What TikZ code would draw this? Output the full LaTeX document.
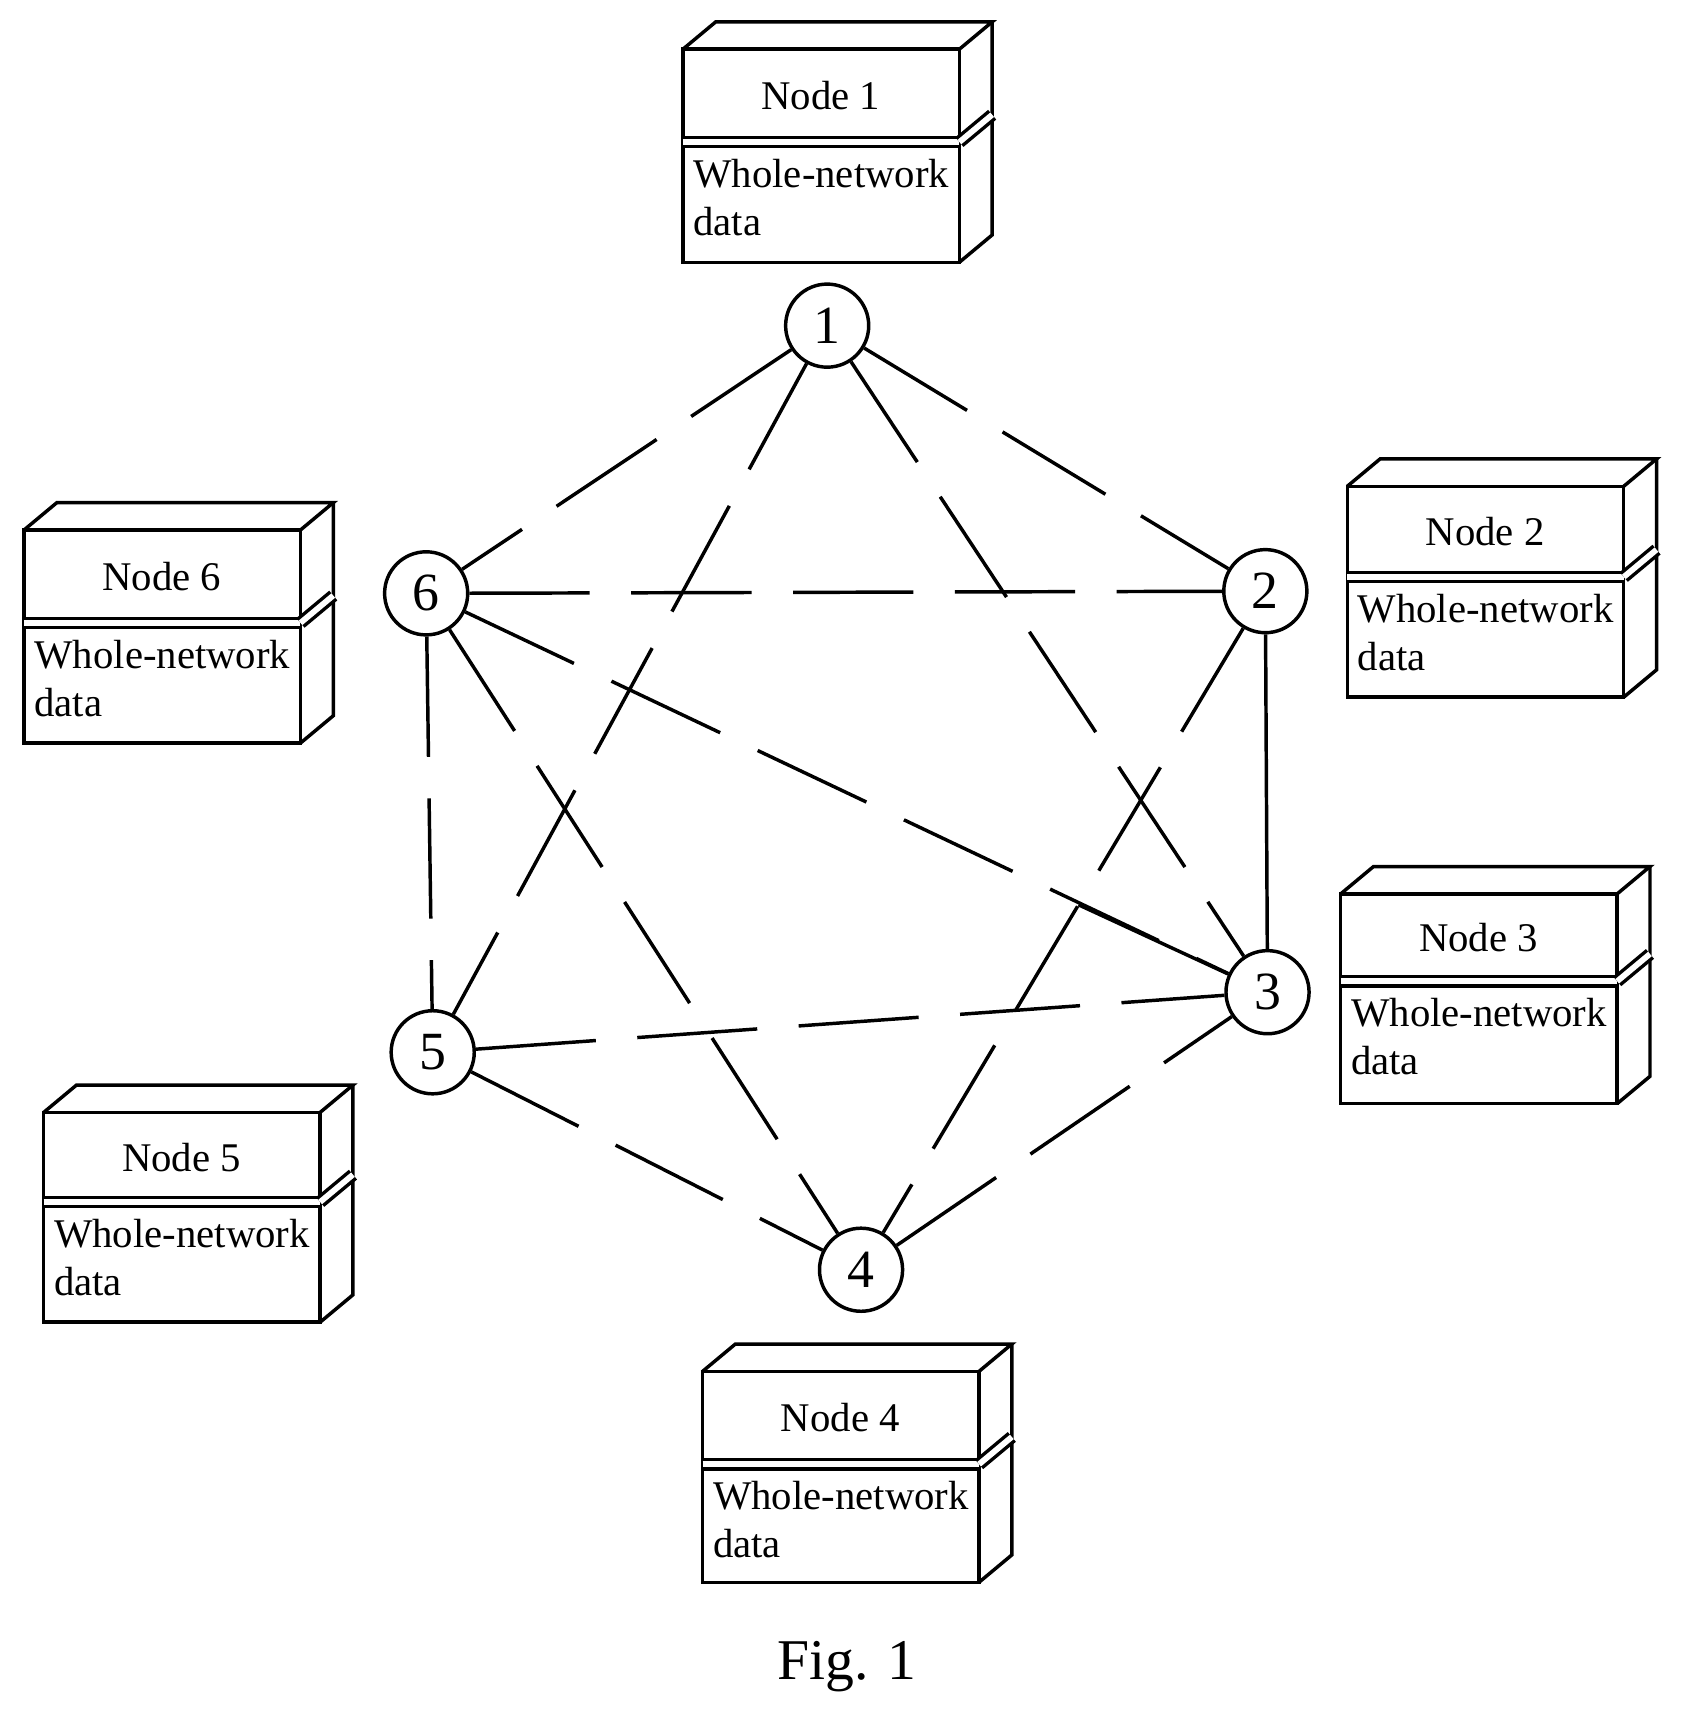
\documentclass[tikz,border=0pt]{standalone}
\usepackage{fontspec}
\setmainfont{Liberation Serif}
\begin{document}
\begin{tikzpicture}[x=0.01cm,y=-0.01cm,
  nd/.style={circle,draw,line width=0.9pt,minimum size=0.76cm,inner sep=0pt,font=\fontsize{14}{16}\selectfont},
  dl/.style={line width=0.9pt,dash pattern=on 1.1cm off 0.38cm},
  sl/.style={line width=0.9pt},
  lbl/.style={font=\fontsize{10.6}{12.6}\selectfont,inner sep=0pt}]
\useasboundingbox (0,0) rectangle (1552,1575);
\newcommand{\dbox}[5]{% name, x, y top, y split, y bottom
  \begin{scope}[line width=0.9pt]
  \draw (#2,#3) rectangle (#2+253,#5);
  \draw[double,double distance=1.5pt] (#2,#4) -- (#2+253,#4);
  \draw (#2,#3) -- (#2+30,#3-25) -- (#2+283,#3-25) -- (#2+253,#3);
  \draw (#2+283,#3-25) -- (#2+283,#5-25) -- (#2+253,#5);
  \draw[double,double distance=1.5pt] (#2+253,#4) -- (#2+283,#4-25);
  \node[lbl] (#1t) at (#2+126,{(#3+#4)/2}) {Node #1};
  \node[lbl,anchor=north west,align=left] (#1b) at (#2+8,#4+14) {Whole-network\\data};
  \end{scope}}
\dbox{1}{625}{45}{130}{240}
\dbox{6}{22}{485}{570}{680}
\dbox{2}{1233}{445}{528}{638}
\dbox{3}{1227}{818}{898}{1010}
\dbox{5}{40}{1018}{1100}{1210}
\dbox{4}{643}{1255}{1340}{1448}
\node[nd] (n1) at (757,298) {1};
\node[nd] (n2) at (1158,541) {2};
\node[nd] (n3) at (1160,908) {3};
\node[nd] (n4) at (788,1162) {4};
\node[nd] (n5) at (396,963) {5};
\node[nd] (n6) at (390,543) {6};
\coordinate (k) at (987,828);
\draw[dl] (n1) -- (n6);
\draw[dl] (n1) -- (n2);
\draw[dl] (n1) -- (n5);
\draw[dl] (n1) -- (n3);
\draw[dl] (n6) -- (n2);
\draw[dl] (n6) -- (n3);
\draw[dl] (n6) -- (n4);
\draw[dl] (n6) -- (n5);
\draw[sl] (n2) -- (n3);
\draw[sl] (k) -- (n3);
\draw[dl] (n2) -- (n4);
\draw[dl] (n5) -- (n3);
\draw[dl] (n5) -- (n4);
\draw[dl] (n4) -- (n3);
\node[font=\fontsize{15}{18}\selectfont] (fig) at (775,1525) {Fig. 1};
\end{tikzpicture}
\end{document}
